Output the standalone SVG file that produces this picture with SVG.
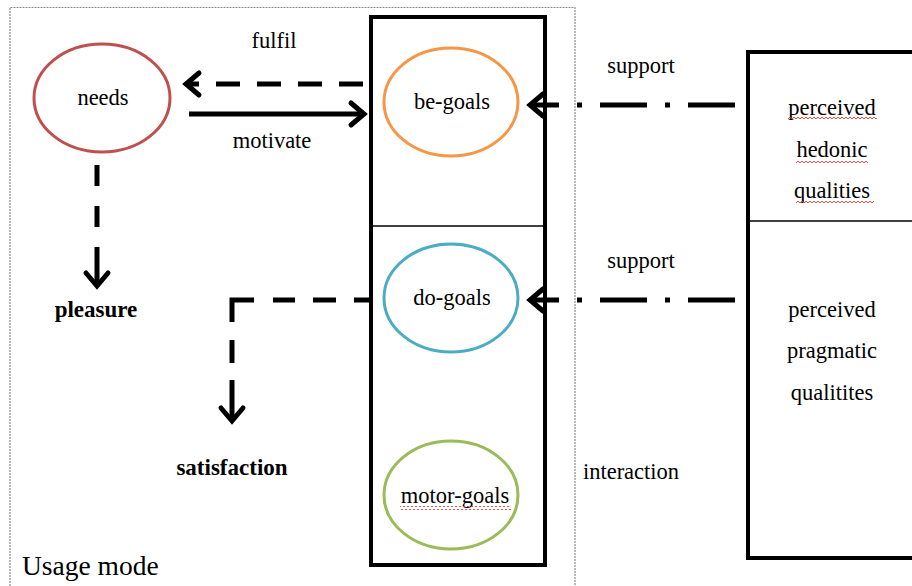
<svg xmlns="http://www.w3.org/2000/svg" width="912" height="586" viewBox="0 0 912 586" font-family="'Liberation Serif', 'Times New Roman', serif">
  <defs>
    <style>
      text { font-family: 'Liberation Serif', 'Times New Roman', serif; }
      .lbl { font-size: 22.5px; fill: #000; text-anchor: middle; }
      .bold { font-weight: bold; font-size: 23px; }
      .goal { fill: none; stroke-width: 3; }
      .frame { fill: #fff; stroke: #000; stroke-width: 4; }
      .divider { stroke: #000; stroke-width: 1.3; }
      .conn { fill: none; stroke: #000; stroke-width: 5; }
    </style>
    <marker id="chev" viewBox="-20 -16 26 32" refX="0" refY="0" markerWidth="26" markerHeight="32" markerUnits="userSpaceOnUse" orient="auto">
      <path d="M-13 -11 L0 0 L-13 11" fill="none" stroke="#000" stroke-width="5" stroke-linecap="round" stroke-linejoin="miter"/>
    </marker>
    <pattern id="squiggle" width="4" height="4" patternUnits="userSpaceOnUse">
      <path d="M0 3 L2 1 L4 3" fill="none" stroke="#e53935" stroke-width="0.9"/>
    </pattern>
  </defs>

  <rect width="912" height="586" fill="#fff"/>

  <!-- usage mode frame (dotted) -->
  <g id="usage-mode">
    <path d="M10 592 V7.5 H575 V592" fill="none" stroke="#8a8a8a" stroke-width="1.2" stroke-dasharray="2 1"/>
    <text class="lbl" x="22" y="575" style="text-anchor:start;font-size:27.5px">Usage mode</text>
  </g>

  <!-- goal column -->
  <g id="goal-column">
    <rect class="frame" x="371" y="17" width="174" height="548"/>
    <line class="divider" x1="371" y1="226" x2="545" y2="226"/>
  </g>

  <!-- product qualities column -->
  <g id="qualities-column">
    <rect class="frame" x="748" y="52" width="200" height="506"/>
    <line class="divider" x1="748" y1="221" x2="912" y2="221"/>
  </g>

  <g id="needs">
    <ellipse class="goal" cx="102" cy="98" rx="68" ry="54" stroke="#C0504D"/>
    <text class="lbl" x="103" y="105">needs</text>
  </g>

  <g id="be-goals">
    <ellipse class="goal" cx="451" cy="102" rx="67" ry="54" stroke="#F79646"/>
    <text class="lbl" x="452" y="109">be-goals</text>
  </g>

  <g id="do-goals">
    <ellipse class="goal" cx="451" cy="298" rx="67" ry="54" stroke="#4BACC6"/>
    <text class="lbl" x="452" y="305">do-goals</text>
  </g>

  <g id="motor-goals">
    <ellipse class="goal" cx="451" cy="495" rx="67" ry="54" stroke="#9BBB59"/>
    <text class="lbl" x="455" y="503">motor-goals</text>
    <rect x="400" y="506" width="111" height="4" fill="url(#squiggle)"/>
  </g>

  <g id="pleasure">
    <text class="lbl bold" x="96" y="317">pleasure</text>
  </g>

  <g id="satisfaction">
    <text class="lbl bold" x="232" y="475">satisfaction</text>
  </g>

  <g id="hedonic-qualities">
    <text class="lbl" x="832" y="115">perceived</text>
    <text class="lbl" x="832" y="157">hedonic</text>
    <text class="lbl" x="832" y="198">qualities</text>
    <rect x="788" y="117" width="89" height="4" fill="url(#squiggle)"/>
    <rect x="796" y="159" width="72" height="4" fill="url(#squiggle)"/>
    <rect x="796" y="201" width="78" height="4" fill="url(#squiggle)"/>
  </g>

  <g id="pragmatic-qualities">
    <text class="lbl" x="832" y="317">perceived</text>
    <text class="lbl" x="832" y="358">pragmatic</text>
    <text class="lbl" x="832" y="400">qualitites</text>
  </g>

  <!-- connectors -->
  <g id="connectors">
    <!-- be-goals fulfil needs -->
    <path class="conn" d="M363 84 H186" stroke-dasharray="24 17 24 17 24 17 24 17 14" marker-end="url(#chev)"/>
    <!-- needs motivate be-goals -->
    <path class="conn" d="M189 114 H364" marker-end="url(#chev)"/>
    <!-- needs to pleasure -->
    <path class="conn" d="M97 165 V286" stroke-dasharray="21 20 21 20 41" marker-end="url(#chev)"/>
    <!-- do-goals to satisfaction -->
    <path class="conn" d="M372 300 H232 V421" stroke-dasharray="18 18 23 18 22 19 44 18 23 17 42" marker-end="url(#chev)"/>
    <!-- hedonic qualities support be-goals -->
    <path class="conn" d="M735 105 H530" stroke-dasharray="47 18 5 18 47 18 5 18 29" marker-end="url(#chev)"/>
    <!-- pragmatic qualities support do-goals -->
    <path class="conn" d="M735 300 H530" stroke-dasharray="47 18 5 18 47 18 5 18 29" marker-end="url(#chev)"/>

    <text class="lbl" x="274" y="48">fulfil</text>
    <text class="lbl" x="272" y="148">motivate</text>
    <text class="lbl" x="641" y="73">support</text>
    <text class="lbl" x="641" y="268">support</text>
    <text class="lbl" x="631" y="479">interaction</text>
  </g>
</svg>
